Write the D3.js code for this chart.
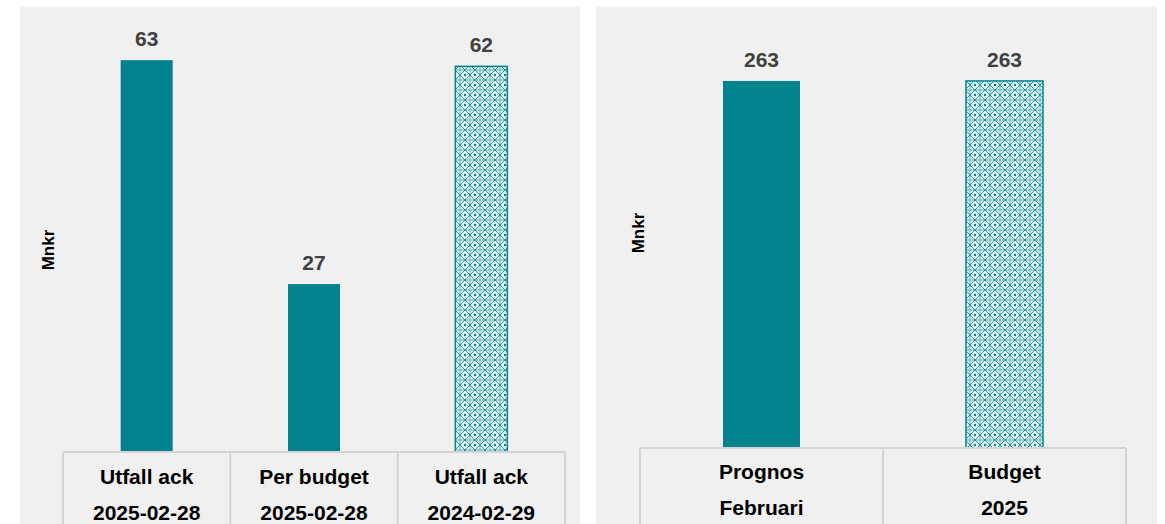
<!DOCTYPE html>
<html><head><meta charset="utf-8">
<script src="https://cdn.jsdelivr.net/npm/d3@7"></script>
<style>body{margin:0;background:#fff;}svg{display:block;font-family:"Liberation Sans",Arial,sans-serif;}</style>
</head><body>
<svg id="c" width="1165" height="524"></svg>
<script>
// Left chart data
const leftLine1 = ["Utfall ack", "Per budget", "Utfall ack"];
const leftLine2 = ["2025-02-28", "2025-02-28", "2024-02-29"];
const leftValues = [63, 27, 62];
const leftPatterned = [false, false, true];
// Right chart data
const rightLine1 = ["Prognos", "Budget"];
const rightLine2 = ["Februari", "2025"];
const rightValues = [263, 263];
const rightPatterned = [false, true];
const yLabel = "Mnkr";

const svg = d3.select("#c");
const teal = "#00838c";
const defs = svg.append("defs");
const pat = defs.append("pattern").attr("id","lattice").attr("patternUnits","userSpaceOnUse")
  .attr("width",10).attr("height",10);
pat.append("rect").attr("width",10).attr("height",10).attr("fill","#e4f3f4");
pat.append("path").attr("d","M0,5 L5,0 L10,5 L5,10 Z").attr("fill","none").attr("stroke",teal).attr("stroke-width",1).attr("opacity",0.8);
pat.append("path").attr("d","M0,0 L10,0 M0,10 L10,10 M0,0 L0,10 M10,0 L10,10").attr("stroke",teal).attr("stroke-width",1).attr("opacity",0.6);
pat.append("circle").attr("cx",5).attr("cy",5).attr("r",1.2).attr("fill",teal);

function panel(cfg){
  const g = svg.append("g");
  g.append("rect").attr("x",cfg.px).attr("y",7).attr("width",cfg.pw).attr("height",530).attr("fill","#f0f0f0");
  const x = d3.scaleBand().domain(d3.range(cfg.values.length)).range([cfg.x0,cfg.x1]).paddingInner(0).paddingOuter(0);
  const y = d3.scaleLinear().domain([0,cfg.ymax]).range([cfg.base,cfg.top]);
  const bw = cfg.barW;
  g.selectAll("rect.bar").data(cfg.values).join("rect").attr("class","bar")
    .attr("x",(d,i)=>x(i)+x.bandwidth()/2-bw/2)
    .attr("y",d=>y(d)).attr("width",bw).attr("height",d=>y(0)-y(d))
    .attr("fill",(d,i)=>cfg.pat[i]?"url(#lattice)":teal)
    .attr("stroke",(d,i)=>cfg.pat[i]?teal:"none").attr("stroke-width",1.5);
  g.selectAll("text.val").data(cfg.values).join("text").attr("class","val")
    .attr("x",(d,i)=>x(i)+x.bandwidth()/2).attr("y",d=>y(d)-14)
    .attr("text-anchor","middle").attr("font-size",21).attr("font-weight","bold").attr("fill","#404040")
    .text(d=>d);
  const tg = g.append("g");
  tg.append("line").attr("x1",cfg.x0).attr("x2",cfg.x1).attr("y1",cfg.base).attr("y2",cfg.base).attr("stroke","#d4d4d4").attr("stroke-width",2);
  d3.range(cfg.values.length+1).forEach(i=>{
    const xx = i<cfg.values.length? x(i): cfg.x1;
    tg.append("line").attr("x1",xx).attr("x2",xx).attr("y1",cfg.base).attr("y2",524).attr("stroke","#d4d4d4").attr("stroke-width",2);
  });
  g.selectAll("text.c1").data(cfg.l1).join("text").attr("class","c1")
    .attr("x",(d,i)=>x(i)+x.bandwidth()/2).attr("y",cfg.base+cfg.c1dy)
    .attr("text-anchor","middle").attr("font-size",21).attr("font-weight","bold").attr("fill","#000").text(d=>d);
  g.selectAll("text.c2").data(cfg.l2).join("text").attr("class","c2")
    .attr("x",(d,i)=>x(i)+x.bandwidth()/2).attr("y",cfg.base+cfg.c2dy)
    .attr("text-anchor","middle").attr("font-size",21).attr("font-weight","bold").attr("fill","#000").text(d=>d);
  g.append("text").attr("transform",`translate(${cfg.ylx},${cfg.yly}) rotate(-90)`)
    .attr("text-anchor","middle").attr("font-size",17).attr("font-weight","bold").attr("fill","#000").text(yLabel);
}

panel({px:20,pw:560,x0:63,x1:565,base:452,top:16.6,ymax:70,values:leftValues,pat:leftPatterned,
  l1:leftLine1,l2:leftLine2,barW:52,c1dy:32,c2dy:68,ylx:54,yly:250});
panel({px:596,pw:561,x0:640,x1:1126,base:448,top:29.3,ymax:300,values:rightValues,pat:rightPatterned,
  l1:rightLine1,l2:rightLine2,barW:77,c1dy:31,c2dy:67,ylx:644,yly:233});
</script>
</body></html>
